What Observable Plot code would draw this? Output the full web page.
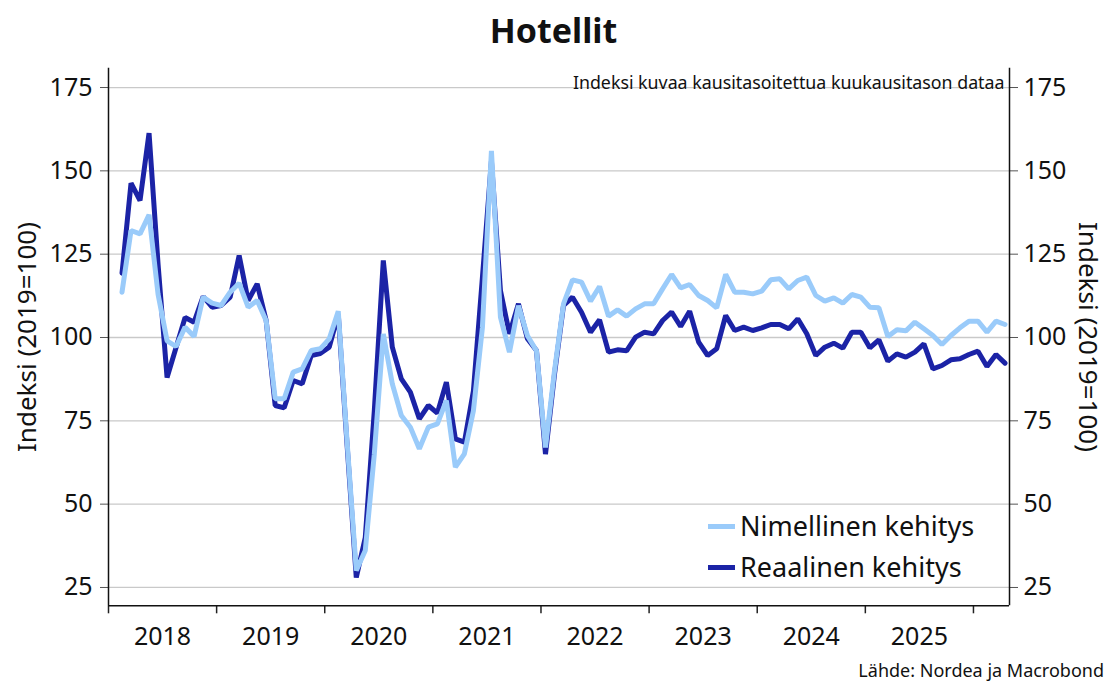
<!DOCTYPE html>
<html>
<head>
<meta charset="utf-8">
<script src="https://cdn.jsdelivr.net/npm/d3@7"></script>
<script src="https://cdn.jsdelivr.net/npm/@observablehq/plot@0.6"></script>
<style>
  body { margin: 0; background: #fff; font-family: "Noto Sans", sans-serif; color: #111; }
  #wrap { position: relative; width: 1107px; height: 683px; overflow: hidden; }
  #title { position: absolute; left: 0; top: 8px; width: 1107px; text-align: center; font-weight: 700; font-size: 34px; line-height: 44px; }
  #chart { position: absolute; left: 0; top: 58px; }
  #source { position: absolute; right: 3px; top: 661px; font-size: 18px; line-height: 19px; }
  .leg { position: absolute; left: 708px; font-size: 27px; line-height: 34px; display: flex; align-items: center; }
  .sw { display: inline-block; width: 27px; height: 5px; margin-right: 5px; }
</style>
</head>
<body>
<div id="wrap">
  <div id="title"></div>
  <div id="chart"></div>
  <div id="legend"></div>
  <div id="source"></div>
</div>
<script>
// ---- Data (monthly, seasonally adjusted index 2019=100), starting Feb 2018 ----
const startYear = 2018;
const startMonth = 2; // February
const nominal = [
  // 2018 Feb-Dec
  113.6, 132.1, 131.1, 136.8, 113.0, 99.0, 97.3, 103.1, 100.3, 112.1, 110.3,
  // 2019
  109.6, 113.6, 116.3, 109.1, 111.1, 105.0, 81.6, 81.6, 89.6, 90.6, 96.1, 96.6,
  // 2020
  99.6, 107.9, 68.0, 30.1, 36.1, 65.0, 101.1, 86.1, 76.6, 73.1, 66.6, 73.1,
  // 2021
  74.1, 81.1, 61.1, 65.1, 78.0, 103.0, 156.0, 106.1, 95.6, 109.5, 100.5, 96.0,
  // 2022
  67.0, 90.0, 110.1, 117.3, 116.6, 110.9, 115.3, 106.4, 108.3, 106.4, 108.6, 110.1,
  // 2023
  110.1, 114.6, 118.9, 114.9, 115.9, 112.6, 111.1, 108.9, 118.9, 113.6, 113.6, 113.1,
  // 2024
  113.9, 117.3, 117.6, 114.6, 117.1, 118.1, 112.6, 110.9, 111.9, 110.3, 112.9, 112.1,
  // 2025
  109.1, 108.9, 100.3, 102.3, 102.0, 104.6, 102.6, 100.6, 97.9, 100.6, 102.9, 104.9,
  // 2026 Jan-Apr
  104.9, 101.6, 104.9, 103.9
];
const real = [
  // 2018 Feb-Dec
  119.3, 146.3, 141.1, 161.3, 122.0, 88.0, 97.0, 106.0, 104.6, 112.3, 109.1,
  // 2019
  109.6, 112.1, 124.6, 111.1, 116.1, 105.1, 79.6, 78.9, 87.1, 86.1, 94.6, 95.2,
  // 2020
  97.1, 107.0, 67.0, 28.0, 40.0, 78.0, 123.1, 97.1, 87.6, 83.6, 75.6, 79.6,
  // 2021
  77.3, 86.6, 69.6, 68.6, 84.0, 118.0, 153.0, 114.1, 101.1, 110.1, 99.6, 96.1,
  // 2022
  65.0, 89.0, 109.6, 112.1, 107.6, 101.6, 105.3, 95.6, 96.3, 96.0, 100.1, 101.6,
  // 2023
  101.1, 105.1, 107.6, 103.3, 107.9, 98.6, 94.6, 96.6, 106.6, 102.1, 103.1, 102.1,
  // 2024
  102.9, 103.9, 103.9, 102.6, 105.6, 101.1, 94.6, 97.1, 98.3, 96.8, 101.6, 101.6,
  // 2025
  96.9, 99.3, 92.9, 95.1, 94.1, 95.6, 98.1, 90.6, 91.6, 93.3, 93.6, 94.9,
  // 2026 Jan-Apr
  95.9, 91.3, 94.9, 92.3
];
const yearTicks = [2018, 2019, 2020, 2021, 2022, 2023, 2024, 2025, 2026];
const yearLabels = ["2018", "2019", "2020", "2021", "2022", "2023", "2024", "2025"];
const yTicks = [25, 50, 75, 100, 125, 150, 175];
const seriesNames = ["Nimellinen kehitys", "Reaalinen kehitys"];
const colors = ["#9ACBFA", "#1B23A6"];
const titleText = "Hotellit";
const yLabel = "Indeksi (2019=100)";
const noteText = "Indeksi kuvaa kausitasoitettua kuukausitason dataa";
const sourceText = "Lähde: Nordea ja Macrobond";

// ---- Build table ----
const monthPos = i => startYear + (startMonth - 1 + i + 0.5) / 12;
const rowsNom = nominal.map((v, i) => ({x: monthPos(i), y: v}));
const rowsReal = real.map((v, i) => ({x: monthPos(i), y: v}));
const xDomain = [2018, 2026 + 4 / 12];
const yDomain = [19.5, 180.8];
const labelPos = yearLabels.map(l => +l + 0.5);

document.getElementById("title").textContent = titleText;
document.getElementById("source").textContent = sourceText;

const chart = Plot.plot({
  width: 1107,
  height: 600,
  marginTop: 9.7,
  marginBottom: 52.7,
  marginLeft: 108,
  marginRight: 98,
  x: {domain: xDomain, axis: null},
  y: {domain: yDomain, axis: null},
  style: {fontFamily: "Noto Sans", color: "#111", background: "transparent", overflow: "visible"},
  marks: [
    Plot.gridY(yTicks, {stroke: "#c9c9c9", strokeOpacity: 1, strokeWidth: 1.3}),
    Plot.axisY(yTicks, {anchor: "left", tickSize: 8, tickPadding: 8, fontSize: 25, label: null, tickFormat: d => String(d), stroke: "#555"}),
    Plot.axisY(yTicks, {anchor: "right", tickSize: 8, tickPadding: 6, fontSize: 25, label: null, tickFormat: d => String(d), stroke: "#555"}),
    Plot.axisX(yearTicks, {anchor: "bottom", tickSize: 8, tickFormat: () => "", label: null, stroke: "#222", strokeWidth: 1.5}),
    Plot.axisX(labelPos, {anchor: "bottom", tickSize: 0, tickPadding: 21, fontSize: 25, label: null, tickFormat: d => String(Math.floor(d))}),
    Plot.ruleX([xDomain[0], xDomain[1]], {stroke: "#111", strokeWidth: 1.5}),
    Plot.ruleY([yDomain[0]], {stroke: "#111", strokeWidth: 1.5}),
    Plot.line(rowsReal, {x: "x", y: "y", stroke: colors[1], strokeWidth: 5, strokeLinejoin: "miter"}),
    Plot.line(rowsNom, {x: "x", y: "y", stroke: colors[0], strokeWidth: 5, strokeLinejoin: "miter"}),
    Plot.text([noteText], {frameAnchor: "top-right", dx: -5, dy: 15.5, lineAnchor: "middle", textAnchor: "end", fontSize: 17.8, fill: "#111"}),
    Plot.text([yLabel], {frameAnchor: "left", rotate: -90, dx: -81, textAnchor: "middle", lineAnchor: "middle", fontSize: 26, fill: "#111"}),
    Plot.text([yLabel], {frameAnchor: "right", rotate: 90, dx: 78, textAnchor: "middle", lineAnchor: "middle", fontSize: 26, fill: "#111"})
  ]
});
document.getElementById("chart").appendChild(chart);

// ---- Legend ----
const legend = document.getElementById("legend");
const legTops = [509, 550];
seriesNames.forEach((name, i) => {
  const d = document.createElement("div");
  d.className = "leg";
  d.style.top = legTops[i] + "px";
  const sw = document.createElement("span");
  sw.className = "sw";
  sw.style.background = colors[i];
  d.appendChild(sw);
  d.appendChild(document.createTextNode(name));
  legend.appendChild(d);
});
</script>
</body>
</html>
